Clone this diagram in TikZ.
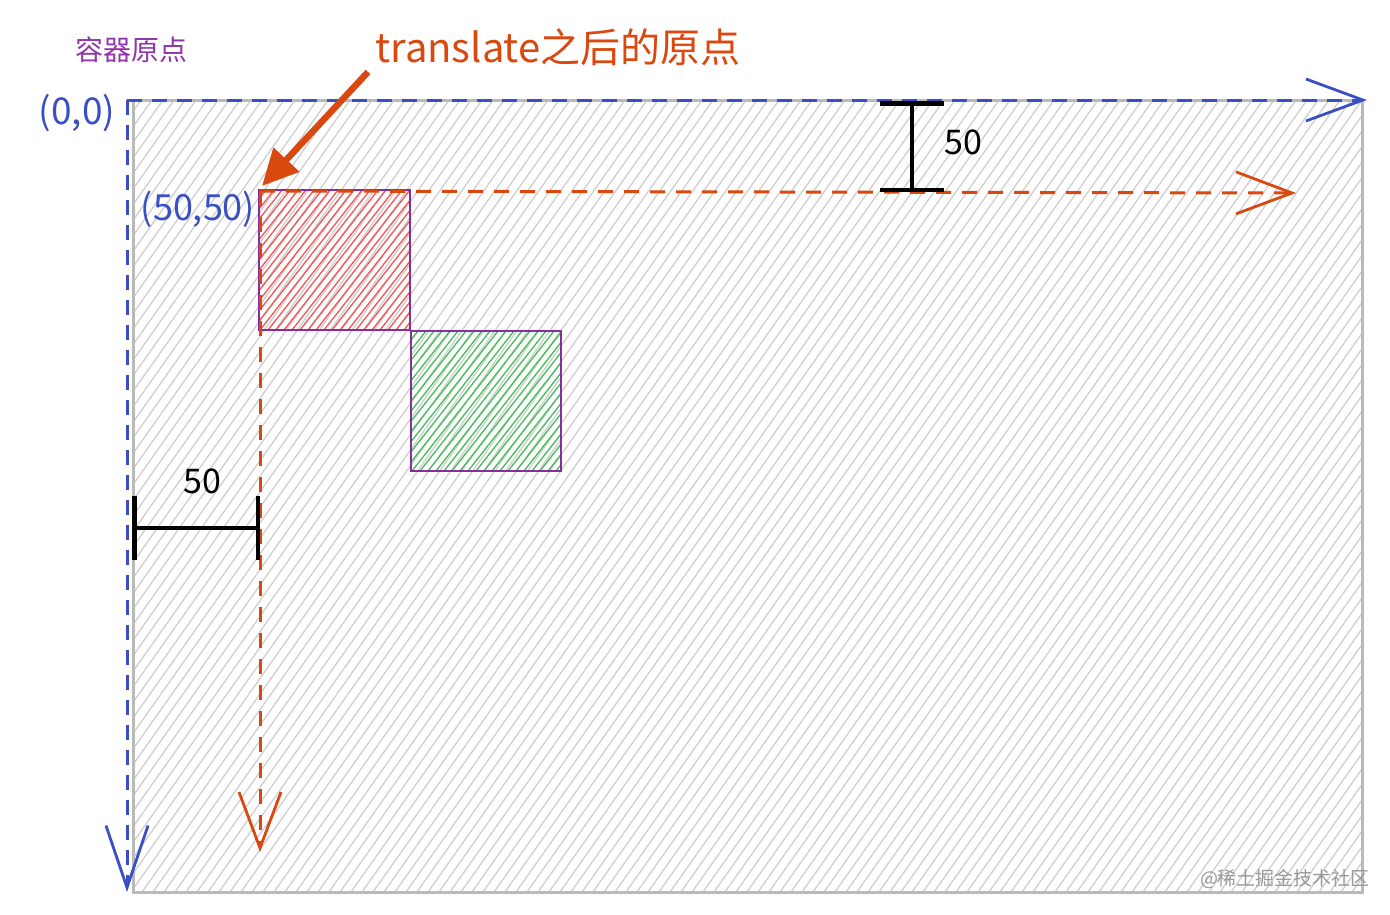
\documentclass[tikz,border=0pt]{standalone}
\usepackage{fontspec}
\setmainfont{Noto Sans CJK SC}
\usetikzlibrary{arrows.meta}
\definecolor{axisblue}{HTML}{3B4FC4}
\definecolor{torange}{HTML}{D9480F}
\definecolor{labelpurple}{HTML}{9036AA}
\definecolor{boxpurple}{HTML}{862E9C}
\definecolor{hatchred}{HTML}{FA5252}
\definecolor{hatchgreen}{HTML}{40C057}
\definecolor{hatchgray}{HTML}{CFCFCF}
\tikzset{
  axis/.style={axisblue, line width=3pt, dash pattern=on 15pt off 10pt},
  taxis/.style={torange, line width=3pt, dash pattern=on 15pt off 11pt},
  vtip/.style={-{Straight Barb[length=#1, width=42pt, line width=2.8pt]}},
  dim/.style={black, line width=4.5pt, {Bar[width=64pt]}-{Bar[width=64pt]}},
  hatchline/.style={line width=1.3pt}
}
\begin{document}
\begin{tikzpicture}[x=1pt, y=-1pt]
  \useasboundingbox[fill=white] (0,0) rectangle (1390,914);
  \begin{scope}
    \clip (133,100) rectangle (1362,892);
    \foreach \x in {-540,-529,...,1362}
      \draw[hatchgray, hatchline] (\x,892) -- ++(560,-792);
  \end{scope}
  \draw[hatchgray!90!black, line width=3pt] (133,100) rectangle (1362,892);
  \begin{scope}
    \clip (259,190) rectangle (410,330);
    \foreach \x in {140,148,...,410}
      \draw[hatchred, hatchline] (\x,330) -- ++(110,-140);
  \end{scope}
  \draw[boxpurple, line width=2.6pt] (259,190) rectangle (410,330);
  \begin{scope}
    \clip (411,331) rectangle (561,471);
    \foreach \x in {292,300,...,561}
      \draw[hatchgreen, hatchline] (\x,471) -- ++(110,-140);
  \end{scope}
  \draw[boxpurple, line width=2.6pt] (411,331) rectangle (561,471);
  \coordinate (o) at (127,100);
  \coordinate (xend) at (1367,100);
  \coordinate (yend) at (127,892);
  \coordinate (t) at (260,191);
  \coordinate (txend) at (1296,193);
  \coordinate (tyend) at (260,852);
  \coordinate (tstart) at (368,72);
  \coordinate (ttip) at (262,186);
  \coordinate (d1a) at (912,101);
  \coordinate (d1b) at (912,192);
  \coordinate (d2a) at (132,528);
  \coordinate (d2b) at (260,528);
  \draw[axis, vtip=57pt] (o) -- (xend);
  \draw[axis, vtip=62pt] (o) -- (yend);
  \draw[taxis, vtip=56pt] (t) -- (txend);
  \draw[taxis, vtip=56pt] (t) -- (tyend);
  \draw[torange, line width=6.5pt, -{Triangle[length=36pt, width=34pt]}] (tstart) -- (ttip);
  \draw[dim] (d1a) -- (d1b);
  \draw[dim] (d2a) -- (d2b);
  \node (origin) at (131,50) {\fontsize{28}{28}\selectfont\color{labelpurple}容器原点};
  \node (trans) at (558,47) {\fontsize{40}{40}\selectfont\color{torange}translate之后的原点};
  \node (zero) at (77,113) {\fontsize{37}{37}\selectfont\color{axisblue}(0,0)};
  \node (fifty) at (198,209) {\fontsize{36}{36}\selectfont\color{axisblue}(50,50)};
  \node (dima) at (963,142) {\fontsize{34}{34}\selectfont 50};
  \node (dimb) at (202,481) {\fontsize{34}{34}\selectfont 50};
  \node (mark) at (1285,879) {\fontsize{19}{19}\selectfont\color{black!40}@稀土掘金技术社区};
\end{tikzpicture}
\end{document}
